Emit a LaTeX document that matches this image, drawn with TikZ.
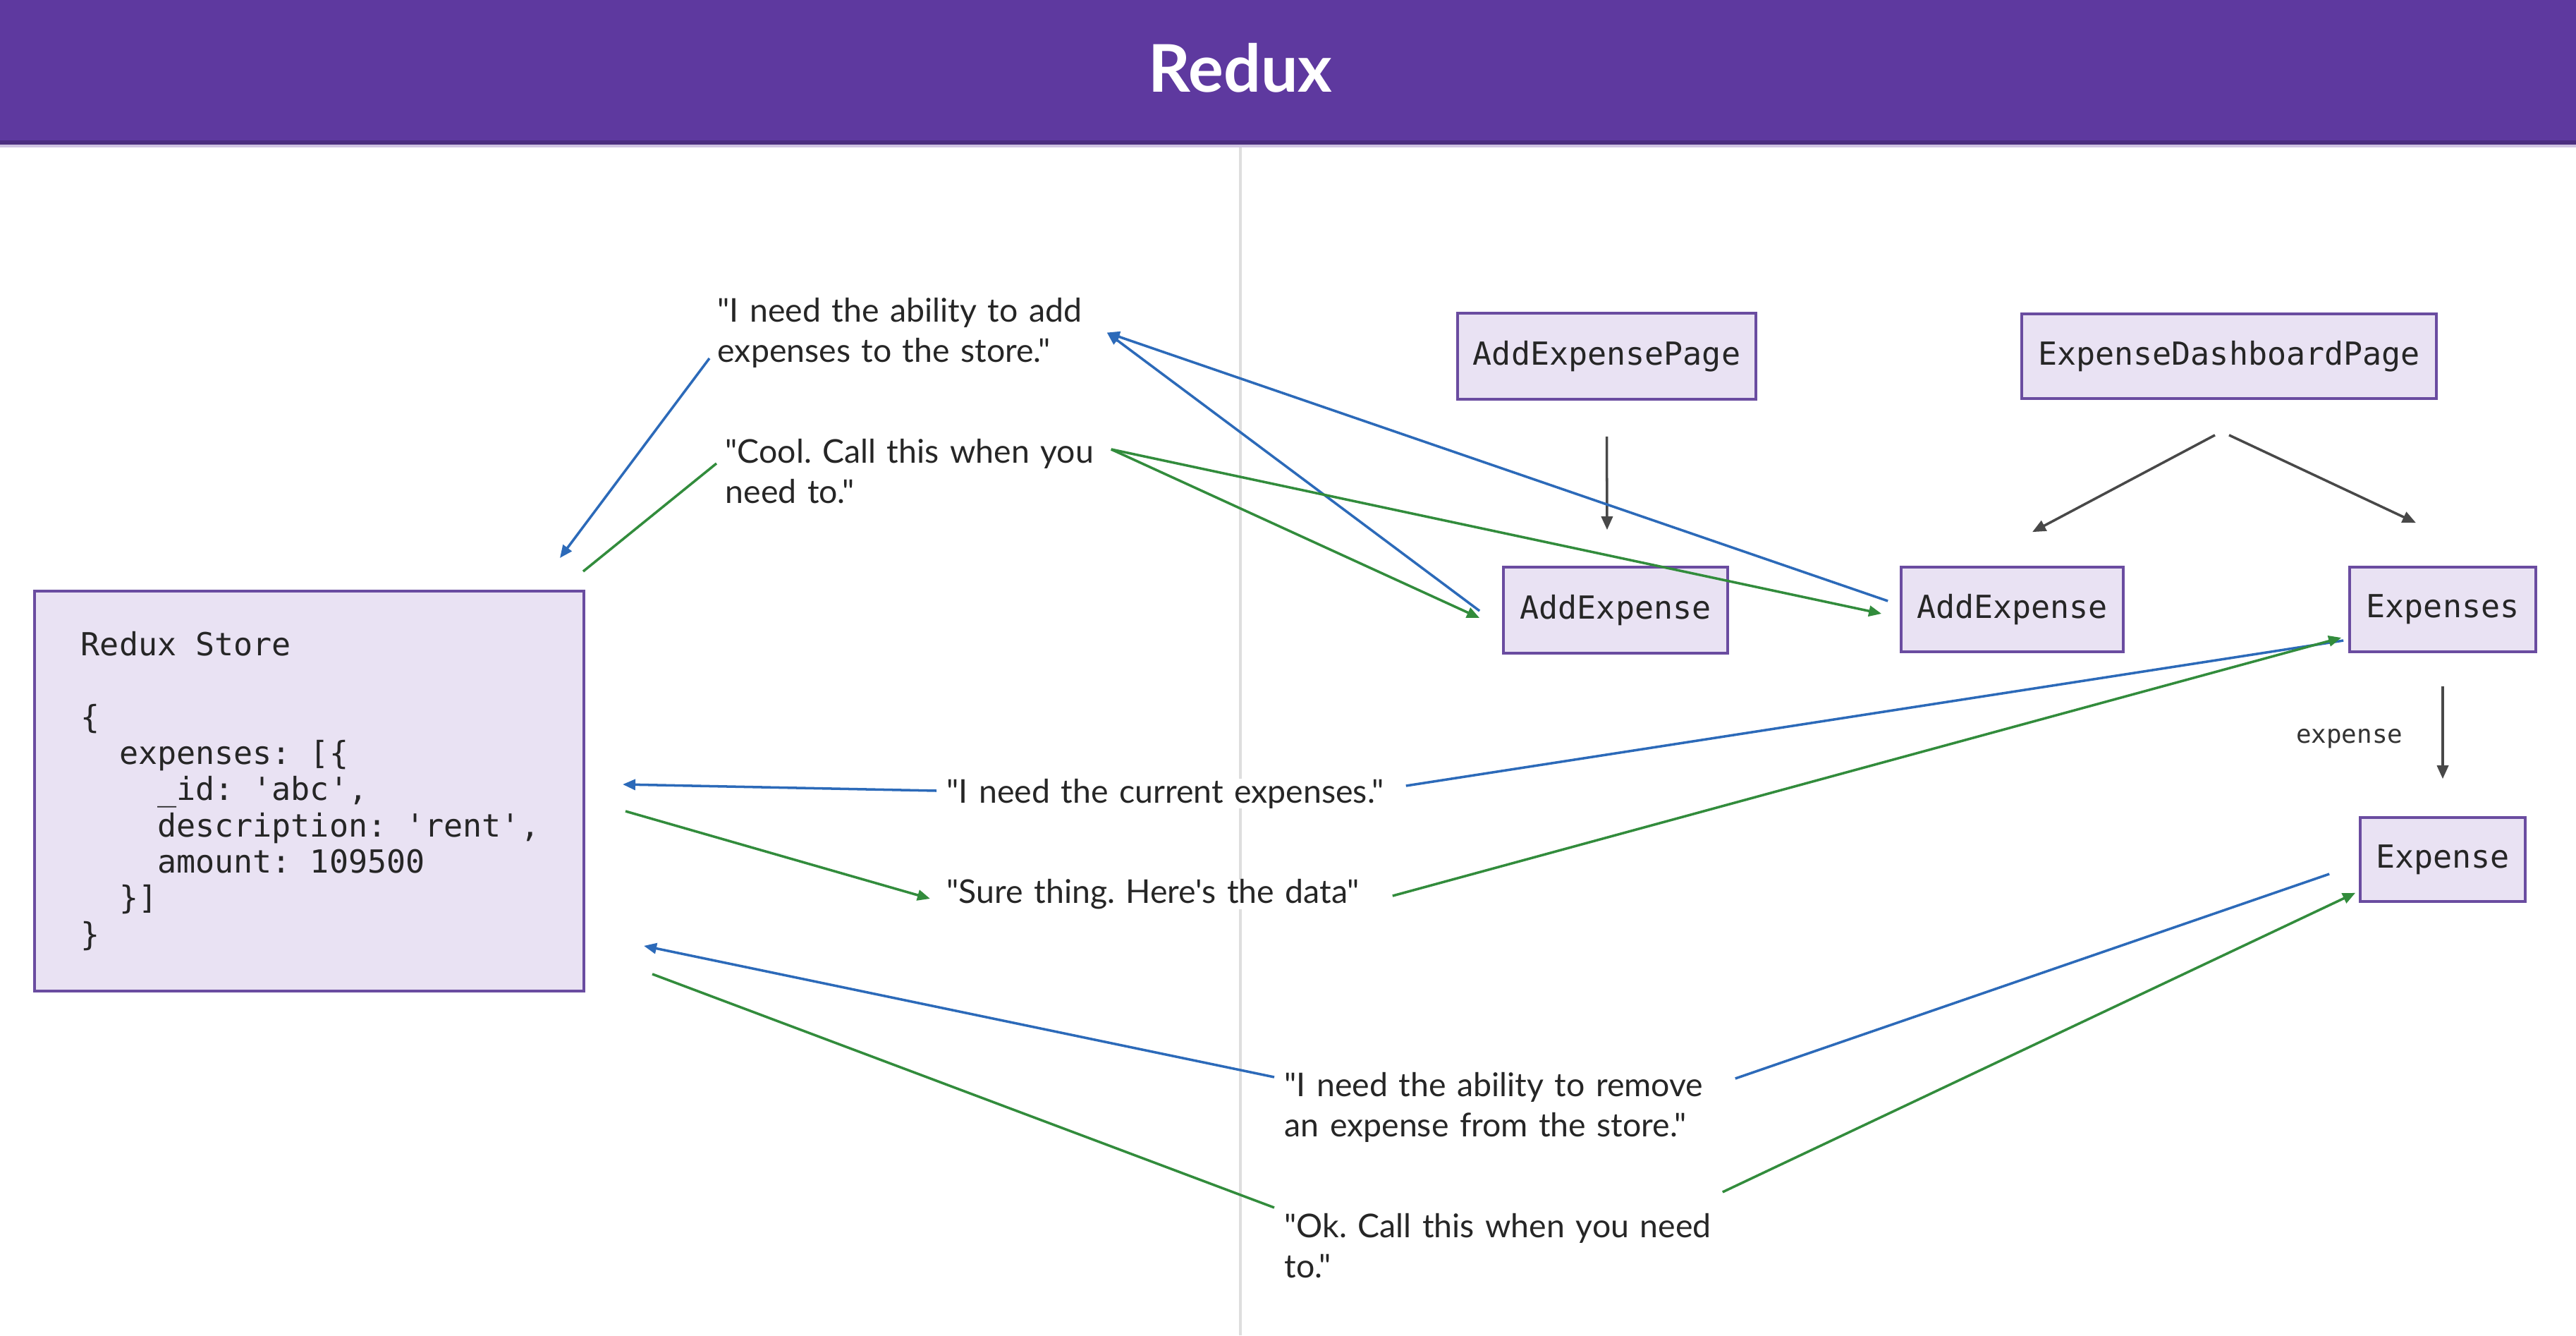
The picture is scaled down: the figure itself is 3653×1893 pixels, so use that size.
\documentclass[tikz,border=0pt]{standalone}
\usepackage{fontspec}
\setmainfont{Lato}[Ligatures=TeXOff]
\setmonofont{DejaVu Sans Mono}
\usetikzlibrary{arrows.meta}

\definecolor{headpurple}{RGB}{94,57,159}
\definecolor{boxfill}{RGB}{233,226,243}
\definecolor{boxline}{RGB}{106,76,160}
\definecolor{askblue}{RGB}{44,106,185}
\definecolor{replygreen}{RGB}{50,140,60}
\definecolor{treegray}{RGB}{72,72,72}
\definecolor{divgray}{RGB}{222,222,222}

% one monospace cell, used for spaces in the code
\newcommand{\sk}{\hphantom{0}}

\tikzset{
  comp/.style={draw=boxline, line width=1pt, fill=boxfill, inner sep=0pt,
    font=\fontsize{12.8pt}{14.6pt}\ttfamily, text=black!85},
  talk/.style={anchor=west, align=left, inner sep=0pt, fill=white,
    font=\fontsize{13.2pt}{16.2pt}\selectfont, text=black!85},
  tree/.style={treegray, line width=1pt, -{Triangle[length=0.19cm,width=0.16cm]}},
  ask/.style={askblue, line width=1pt},
  reply/.style={replygreen, line width=1pt},
  arrowend/.style={-{Triangle[length=0.18cm,width=0.15cm]}}
}

\frenchspacing

\begin{document}
\begin{tikzpicture}[x=0.01cm, y=-0.01cm]

        \useasboundingbox (0,0) rectangle (3653,1893);
        \fill[white] (0,0) rectangle (3653,1893);

        %Header
        \fill[headpurple] (0,0) rectangle (3653,205);
        \fill[headpurple!80!black] (0,199) rectangle (3653,205);
        \fill[headpurple!30] (0,205) rectangle (3653,209);
        \node[text=white, font=\fontsize{26.5pt}{30pt}\bfseries] (title) at (1759,96) {Redux};

        %Divider
        \draw[divgray, line width=0.035cm] (1759,209) -- (1759,1893);

        %Store
        \node[comp, minimum width=7.79cm, minimum height=5.67cm, text width=6.47cm,
          inner xsep=0.66cm, align=left] (store) at (438.5,1121.5) {Redux\sk Store\\[14.6pt]
          \{\\
          \sk\sk expenses:\sk[\{\\
          \sk\sk\sk\sk\_id:\sk'abc',\\
          \sk\sk\sk\sk description:\sk'rent',\\
          \sk\sk\sk\sk amount:\sk 109500\\
          \sk\sk\}]\\
          \}};

        %Components
        \node[comp, minimum width=4.23cm, minimum height=1.22cm] (addpage) at (2278.5,505) {AddExpensePage};
        \node[comp, minimum width=3.18cm, minimum height=1.22cm] (addleft) at (2291,865) {AddExpense};
        \node[comp, minimum width=5.88cm, minimum height=1.20cm] (dashpage) at (3161,505) {ExpenseDashboardPage};
        \node[comp, minimum width=3.15cm, minimum height=1.20cm] (addright) at (2853.5,864) {AddExpense};
        \node[comp, minimum width=2.64cm, minimum height=1.20cm] (expenses) at (3464,864) {Expenses};
        \node[comp, minimum width=2.34cm, minimum height=1.19cm] (expense) at (3464,1218.5) {Expense};

        %Tree
        \draw[tree] ([yshift=-0.51cm]addpage.south) -- ([xshift=-0.12cm,yshift=0.51cm]addleft.north);
        \draw[tree] ([xshift=-0.2cm,yshift=-0.5cm]dashpage.south) -- ([xshift=0.285cm,yshift=0.48cm]addright.north);
        \draw[tree] ([yshift=-0.5cm]dashpage.south) -- ([xshift=-0.38cm,yshift=0.61cm]expenses.north);
        \draw[tree] ([yshift=-0.47cm]expenses.south) -- node[left=0.55cm, yshift=-0.09cm, inner sep=0pt, text=black!80,
          font=\fontsize{10.2pt}{12pt}\ttfamily] (explabel) {expense} ([yshift=0.53cm]expense.north);

        %Quotes
        \node[talk, text width=5.51cm] (needadd) at (1017,471.5) {"I need the ability to add\\expenses to the store."};
        \node[talk, text width=5.46cm] (cool) at (1028,668) {"Cool. Call this when you\\need to."};
        \node[talk, text width=6.50cm] (needcur) at (1342,1125) {"I need the current expenses."};
        \node[talk, text width=6.31cm] (sure) at (1342,1268) {"Sure thing. Here's the data"};
        \node[talk, text width=6.38cm] (needrm) at (1821,1570) {"I need the ability to remove\\an expense from the store."};
        \node[talk, text width=6.20cm] (okcall) at (1821,1766) {"Ok. Call this when you need\\to."};

        %Add expense
        \draw[ask, arrowend] ([xshift=-0.11cm,yshift=-0.365cm]needadd.west) -- ([xshift=-0.36cm,yshift=0.45cm]store.north east);
        \draw[reply] ([xshift=-0.03cm,yshift=0.26cm]store.north east) -- ([xshift=-0.12cm,yshift=0.11cm]cool.west);
        \draw[ask, arrowend] ([xshift=-0.32cm,yshift=-0.01cm]addleft.west) -- (needadd.east);
        \draw[ask, arrowend] ([xshift=-0.17cm,yshift=0.12cm]addright.west) -- (needadd.east);
        \draw[reply, arrowend] ([yshift=0.31cm]cool.east) -- ([xshift=-0.32cm,yshift=-0.11cm]addleft.west);
        \draw[reply, arrowend] ([yshift=0.31cm]cool.east) -- ([xshift=-0.26cm,yshift=-0.06cm]addright.west);

        %Read expenses
        \draw[ask] ([xshift=-0.07cm,yshift=-0.44cm]expenses.west) -- ([yshift=0.11cm]needcur.east);
        \draw[ask, arrowend] ([xshift=-0.14cm,yshift=0.04cm]needcur.west) -- ([xshift=0.53cm,yshift=0.095cm]store.east);
        \draw[reply, arrowend] ([xshift=0.57cm,yshift=-0.285cm]store.east) -- ([xshift=-0.23cm,yshift=-0.06cm]sure.west);
        \draw[reply, arrowend] ([yshift=-0.02cm]sure.east) -- ([xshift=-0.10cm,yshift=-0.40cm]expenses.west);

        %Remove expense
        \draw[ask] ([xshift=-0.42cm,yshift=-0.205cm]expense.west) -- ([yshift=0.41cm]needrm.east);
        \draw[ask, arrowend] ([xshift=-0.14cm,yshift=0.43cm]needrm.west) -- ([xshift=0.83cm,yshift=0.66cm]store.south east);
        \draw[reply] ([xshift=0.95cm,yshift=0.26cm]store.south east) -- ([xshift=-0.14cm,yshift=0.54cm]okcall.west);
        \draw[reply, arrowend] ([yshift=0.76cm]okcall.east) -- ([xshift=-0.05cm,yshift=0.14cm]expense.south west);

\end{tikzpicture}
\end{document}
